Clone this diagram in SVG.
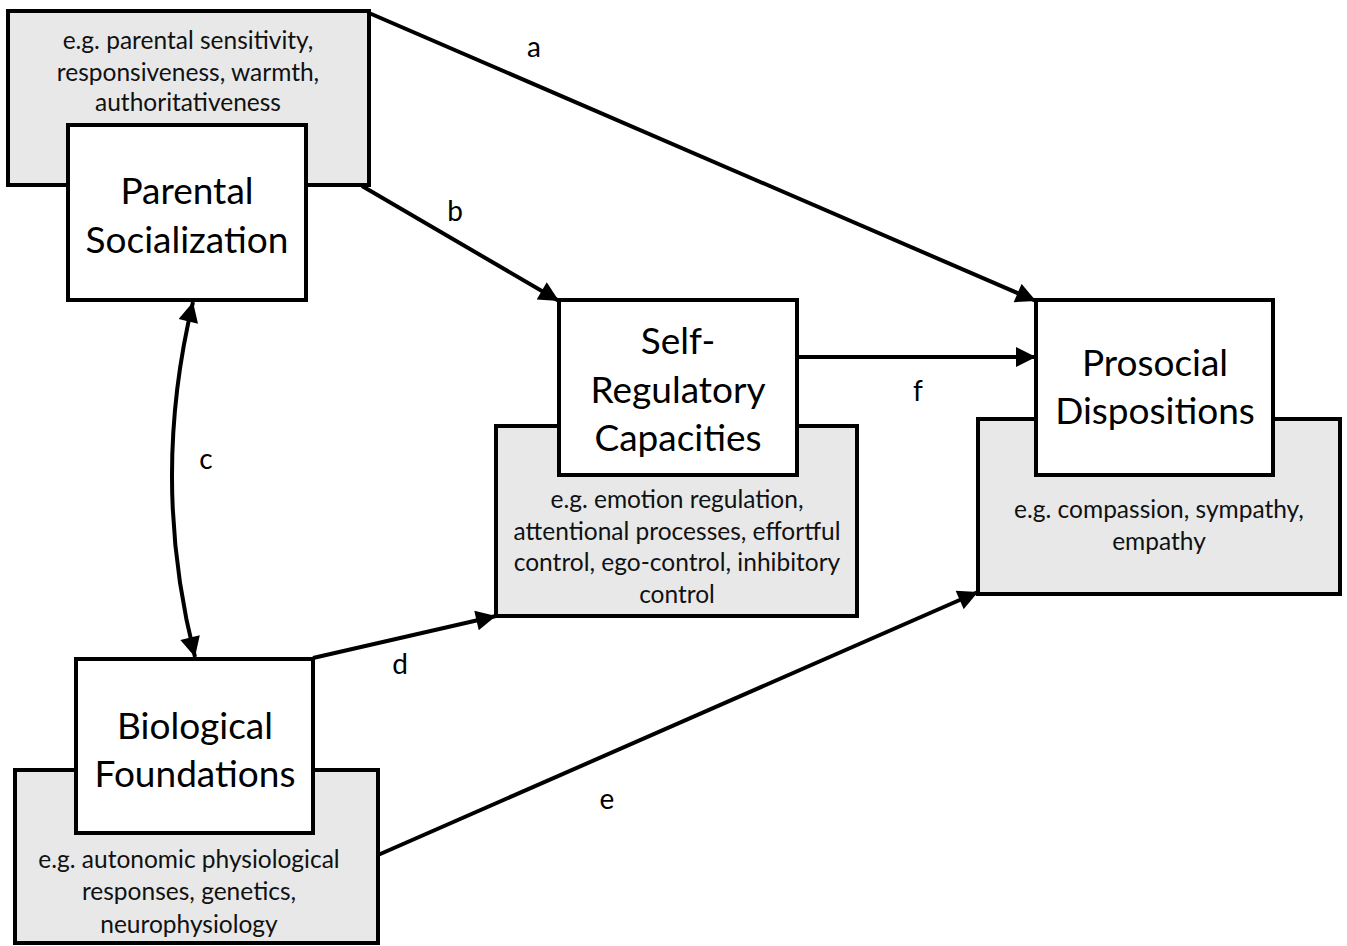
<svg xmlns="http://www.w3.org/2000/svg" width="1347" height="946" viewBox="0 0 1347 946">
<style>
.gray{fill:#e8e8e8;stroke:#000;stroke-width:4}
.white{fill:#fff;stroke:#000;stroke-width:4}
.title{font-family:Lato,"Open Sans","Liberation Sans",sans-serif;font-size:37px;text-anchor:middle;fill:#000}
.small{font-family:Lato,"Open Sans","Liberation Sans",sans-serif;font-size:24.5px;text-anchor:middle;fill:#111}
.lbl{font-family:Lato,"Open Sans","Liberation Sans",sans-serif;font-size:28px;text-anchor:middle;fill:#000}
.conn{fill:none;stroke:#000;stroke-width:4}
</style>
<defs>
<marker id="arr" viewBox="0 0 10 10" refX="10" refY="5" markerWidth="5.5" markerHeight="5" markerUnits="strokeWidth" orient="auto-start-reverse">
<path d="M0,0 L10,5 L0,10 z" fill="#000"/>
</marker>
</defs>
<rect width="1347" height="946" fill="#fff"/>
<g id="connectors">
<line class="conn" x1="369" y1="13" x2="1036" y2="301" marker-end="url(#arr)"/>
<line class="conn" x1="362" y1="186" x2="559" y2="301" marker-end="url(#arr)"/>
<line class="conn" x1="797" y1="357" x2="1036" y2="357" marker-end="url(#arr)"/>
<path class="conn" d="M193,302 Q150,480 195,657" marker-start="url(#arr)" marker-end="url(#arr)"/>
<line class="conn" x1="313" y1="658" x2="496" y2="616" marker-end="url(#arr)"/>
<line class="conn" x1="378" y1="855" x2="978" y2="592" marker-end="url(#arr)"/>
<text class="lbl" x="534" y="57">a</text>
<text class="lbl" x="455" y="221">b</text>
<text class="lbl" x="206" y="469">c</text>
<text class="lbl" x="400" y="674">d</text>
<text class="lbl" x="607" y="809">e</text>
<text class="lbl" x="918" y="401">f</text>
</g>
<g id="parental">
<rect class="gray" x="8" y="11" width="361" height="174"/>
<rect class="white" x="68" y="125" width="238" height="175"/>
<text class="small" x="188" y="49">e.g. parental sensitivity,</text>
<text class="small" x="188" y="81">responsiveness, warmth,</text>
<text class="small" x="188" y="111">authoritativeness</text>
<text class="title" x="187" y="204">Parental</text>
<text class="title" x="187" y="253">Socialization</text>
</g>
<g id="selfreg">
<rect class="gray" x="496" y="426" width="361" height="190"/>
<rect class="white" x="559" y="300" width="238" height="175"/>
<text class="title" x="678" y="354">Self-</text>
<text class="title" x="678" y="403">Regulatory</text>
<text class="title" x="678" y="451">Capacities</text>
<text class="small" x="677" y="508">e.g. emotion regulation,</text>
<text class="small" x="677" y="540">attentional processes, effortful</text>
<text class="small" x="677" y="571">control, ego-control, inhibitory</text>
<text class="small" x="677" y="603">control</text>
</g>
<g id="prosocial">
<rect class="gray" x="978" y="419" width="362" height="175"/>
<rect class="white" x="1036" y="300" width="237" height="175"/>
<text class="title" x="1155" y="376">Prosocial</text>
<text class="title" x="1155" y="424">Dispositions</text>
<text class="small" x="1159" y="518">e.g. compassion, sympathy,</text>
<text class="small" x="1159" y="550">empathy</text>
</g>
<g id="biological">
<rect class="gray" x="15" y="770" width="363" height="173"/>
<rect class="white" x="76" y="659" width="237" height="174"/>
<text class="title" x="195" y="739">Biological</text>
<text class="title" x="195" y="787">Foundations</text>
<text class="small" x="189" y="868">e.g. autonomic physiological</text>
<text class="small" x="189" y="900">responses, genetics,</text>
<text class="small" x="189" y="933">neurophysiology</text>
</g>
</svg>
